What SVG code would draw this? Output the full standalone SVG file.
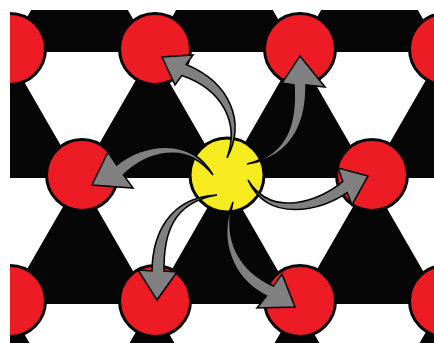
<svg xmlns="http://www.w3.org/2000/svg" width="434" height="343" viewBox="0 0 434 343">
<style>
.tri{fill:#060606}
.red{fill:#ED1C24;stroke:#060606;stroke-width:3}
.yel{fill:#F6EB1F;stroke:#060606;stroke-width:3}
.arr{fill:#808080;stroke:#060606;stroke-width:1.6;stroke-linejoin:miter}
</style>
<defs>
<clipPath id="frame"><rect x="10" y="10" width="424" height="333"/></clipPath>
</defs>
<rect width="434" height="343" fill="#fff"/>
<g clip-path="url(#frame)">
<path class="tri" d="M79.5,-74 L152,52 L7,52Z M224.5,-74 L297,52 L152,52Z M369.5,-74 L442,52 L297,52Z
M7,52 L79.5,178 L-65.5,178Z M152,52 L224.5,178 L79.5,178Z M297,52 L369.5,178 L224.5,178Z M442,52 L514.5,178 L369.5,178Z
M79.5,178 L152,304 L7,304Z M224.5,178 L297,304 L152,304Z M369.5,178 L442,304 L297,304Z
M7,304 L79.5,430 L-65.5,430Z M152,304 L224.5,430 L79.5,430Z M297,304 L369.5,430 L224.5,430Z M442,304 L514.5,430 L369.5,430Z"/>
<g id="r1a"><circle class="red" cx="10" cy="49" r="35.5"/></g>
<g id="r1b"><circle class="red" cx="155" cy="49" r="35.5"/></g>
<g id="r1c"><circle class="red" cx="300" cy="49" r="35.5"/></g>
<g id="r1d"><circle class="red" cx="445" cy="49" r="35.5"/></g>
<g id="r2a"><circle class="red" cx="82" cy="175" r="35.5"/></g>
<g id="center"><circle class="yel" cx="227" cy="175" r="37"/></g>
<g id="r2c"><circle class="red" cx="372" cy="175" r="35.5"/></g>
<g id="r3a"><circle class="red" cx="10" cy="301" r="35.5"/></g>
<g id="r3b"><circle class="red" cx="155" cy="301" r="35.5"/></g>
<g id="r3c"><circle class="red" cx="300" cy="301" r="35.5"/></g>
<g id="r3d"><circle class="red" cx="445" cy="301" r="35.5"/></g>
</g>
<g id="connectors">
<path class="arr" d="M175,85 L162,57 L193,55 L186.2,64.4 C230.4,82.7 246,122 227,158 C240,122 221.6,89.3 181.8,75.6 Z"/>
<path class="arr" d="M282,83 L300,56 L325,87 L306,85 C306.5,115 297.1,157.1 247,164 C292.9,152.9 295.5,115 294,85 Z"/>
<path class="arr" d="M338,168 L368,176 L352,205 L347.1,192.6 C322,210.5 267.9,224.1 248,180 C272.1,219.9 322,199.5 342.9,181.4 Z"/>
<path class="arr" d="M282,274 L295,307 L257,308 L266.5,295.9 C232.7,279.4 217,240 233,202 C223,240 239.3,270.6 273.5,286.1 Z"/>
<path class="arr" d="M177,272 L157,300 L138,270 L152,271 C152.5,235 168.2,197.6 217,195 C171.8,202.4 163.5,235 164,271 Z"/>
<path class="arr" d="M108,152 L92,185 L133,188 L123.4,174.9 C146.65,152.95 185.9,140.1 213,175 C190.1,135.9 143.35,143.05 116.6,165.1 Z"/>
</g>
</svg>
